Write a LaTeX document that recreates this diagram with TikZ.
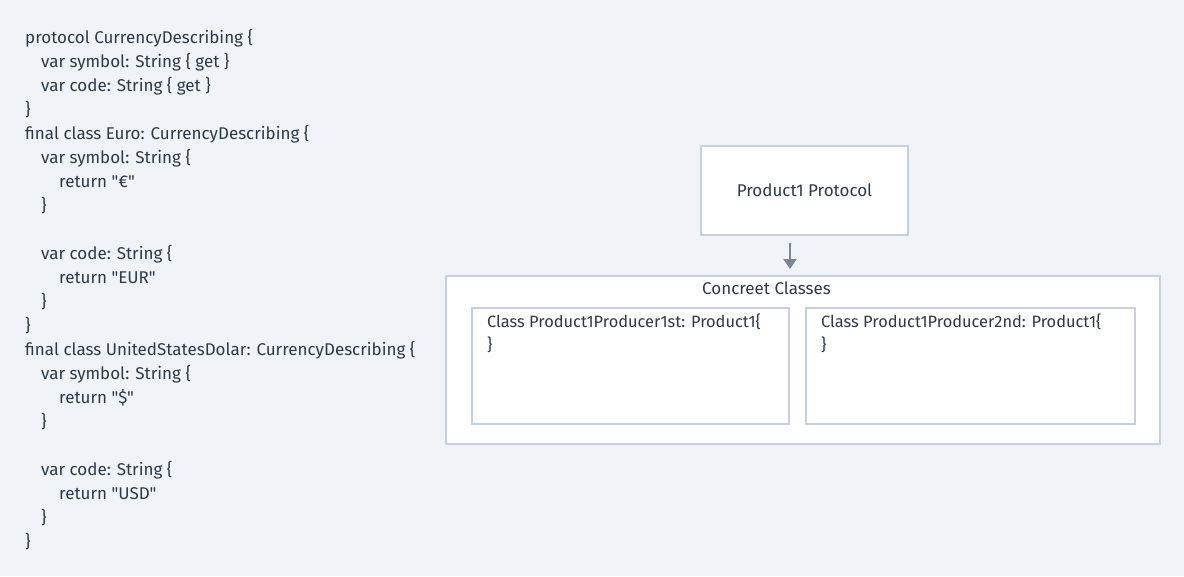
\documentclass[tikz,border=0pt]{standalone}
\usepackage{fontspec}
\setmainfont{Fira Sans}[Ligatures=TeXOff]
\usetikzlibrary{arrows.meta}
\definecolor{bgc}{HTML}{F0F4F8}
\definecolor{bordc}{HTML}{C5D1DC}
\definecolor{txtc}{HTML}{2C3A47}
\definecolor{arrc}{HTML}{7B8794}
\tikzset{
  codeline/.style={anchor=base west, inner sep=0pt, text=txtc, font=\fontsize{17}{20}\selectfont},
  clsline/.style={anchor=base west, inner sep=0pt, text=txtc, font=\fontsize{16.4}{20}\selectfont},
  lbl/.style={inner sep=0pt, text=txtc, font=\fontsize{17}{20}\selectfont},
  boxc/.style={draw=bordc, line width=1.6pt, fill=white},
}
\begin{document}
\begin{tikzpicture}[x=1pt,y=-1pt]
\fill[bgc] (0,0) rectangle (1184,576);
\useasboundingbox (0,0) rectangle (1184,576);
% code
\node[codeline] (l1) at (25,43) {protocol CurrencyDescribing \{};
\node[codeline] (l2) at (41,67) {var symbol: String \{ get \}};
\node[codeline] (l3) at (41,91) {var code: String \{ get \}};
\node[codeline] (l4) at (25,115) {\}};
\node[codeline] (l5) at (25,139) {final class Euro: CurrencyDescribing \{};
\node[codeline] (l6) at (41,163) {var symbol: String \{};
\node[codeline] (l7) at (59,187) {return "€"};
\node[codeline] (l8) at (41,211) {\}};
\node[codeline] (l9) at (41,259) {var code: String \{};
\node[codeline] (l10) at (59,283) {return "EUR"};
\node[codeline] (l11) at (41,307) {\}};
\node[codeline] (l12) at (25,331) {\}};
\node[codeline] (l13) at (25,355) {final class UnitedStatesDolar: CurrencyDescribing \{};
\node[codeline] (l14) at (41,379) {var symbol: String \{};
\node[codeline] (l15) at (59,403) {return "\$"};
\node[codeline] (l16) at (41,427) {\}};
\node[codeline] (l17) at (41,475) {var code: String \{};
\node[codeline] (l18) at (59,499) {return "USD"};
\node[codeline] (l19) at (41,523) {\}};
\node[codeline] (l20) at (25,547) {\}};
% protocol box
\draw[boxc] (701,146) rectangle (908,235);
\node[lbl, anchor=base] (proto) at (804.5,196) {Product1 Protocol};
\coordinate (pbot) at (790,243);
\coordinate (ctop) at (790,269);
\draw[arrc, line width=2pt, -{Triangle[width=13pt,length=10pt]}] (pbot) -- (ctop);
% concrete classes
\draw[boxc] (446,276) rectangle (1160,444);
\node[lbl, anchor=base] (cc) at (766.5,294) {Concreet Classes};
\draw[boxc] (472,308) rectangle (789,424);
\draw[boxc] (806,308) rectangle (1135,424);
\node[clsline] (c1a) at (487,327) {Class Product1Producer1st: Product1\{};
\node[clsline] (c1b) at (487,350) {\}};
\node[clsline] (c2a) at (821,327) {Class Product1Producer2nd: Product1\{};
\node[clsline] (c2b) at (821,350) {\}};
\end{tikzpicture}
\end{document}
